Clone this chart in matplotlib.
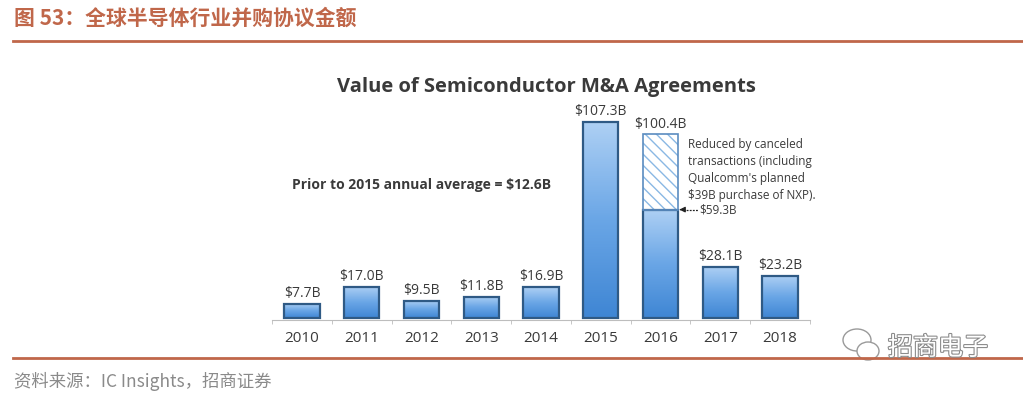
import numpy as np
import matplotlib
matplotlib.use("Agg")
import matplotlib.pyplot as plt
import matplotlib.patheffects as pe
from matplotlib.colors import LinearSegmentedColormap
from matplotlib.patches import Rectangle, Ellipse

plt.rcParams['font.family'] = ['Noto Sans CJK SC', 'DejaVu Sans']

years = ["2010", "2011", "2012", "2013", "2014", "2015", "2016", "2017", "2018"]
values = [7.7, 17.0, 9.5, 11.8, 16.9, 107.3, 59.3, 28.1, 23.2]
labels = ["$7.7B", "$17.0B", "$9.5B", "$11.8B", "$16.9B", "$107.3B", "$100.4B", "$28.1B", "$23.2B"]
announced_2016 = 100.4
completed_2016 = 59.3

HEAD = "#C0674A"
TEXT = "#3a3a3a"
EDGE = "#2f5a85"
HATCH = "#8ab8e4"
plt.rcParams['hatch.color'] = HATCH
grad = LinearSegmentedColormap.from_list("bar", ["#3f86d4", "#6aa6e6", "#aed0f4"])

fig = plt.figure(figsize=(10.23, 3.94), dpi=100, facecolor="white")

# header / footer
fig.text(14 / 1023, 1 - 18 / 394, "图 53：全球半导体行业并购协议金额", color=HEAD,
         fontsize=15, fontweight="bold", va="center", ha="left")
fig.add_artist(plt.Line2D([13 / 1023, 1.0], [1 - 41 / 394] * 2, color=HEAD, lw=2))
fig.add_artist(plt.Line2D([13 / 1023, 1.0], [1 - 358 / 394] * 2, color=HEAD, lw=2))
fig.text(14 / 1023, 1 - 381 / 394, "资料来源：IC Insights，招商证券", color="#8a8a8a",
         fontsize=12.5, va="center", ha="left")

# watermark
for cx, cy, w, h in [(857, 340, 28, 22), (868, 351, 22, 18)]:
    fig.add_artist(Ellipse((cx / 1023, 1 - cy / 394), w / 1023, h / 394,
                           facecolor="white", edgecolor="#9a9a9a", lw=1,
                           transform=fig.transFigure))
fig.text(888 / 1023, 1 - 348 / 394, "招商电子", color="white", fontsize=18,
         va="center", ha="left",
         path_effects=[pe.withStroke(linewidth=1.6, foreground="#8c8c8c")])

# chart title
fig.text(546 / 1023, 1 - 87 / 394, "Value of Semiconductor M&A Agreements",
         family="Open Sans", fontweight="bold", fontsize=14.5, color=TEXT,
         ha="center", va="center")

ax = fig.add_axes([272 / 1023, 74 / 394, 538 / 1023, 260 / 394])
ax.set_xlim(-0.5, len(years) - 0.5)
ax.set_ylim(-1, 141)
x = np.arange(len(years))
w = 0.59

for i, v in enumerate(values):
    r = Rectangle((x[i] - w / 2, 0), w, v, facecolor="none", edgecolor=EDGE, lw=1.6, zorder=3)
    ax.add_patch(r)
    im = ax.imshow(np.linspace(0, 1, 100).reshape(-1, 1), cmap=grad, origin="lower",
                   extent=(x[i] - w / 2, x[i] + w / 2, 0, v), aspect="auto", zorder=2)
    im.set_clip_path(r)

# 2016 cancelled part
i16 = years.index("2016")
ax.add_patch(Rectangle((x[i16] - w / 2, completed_2016), w, announced_2016 - completed_2016,
                       facecolor="white", edgecolor=HATCH, hatch="\\\\\\", lw=0, zorder=2))
ax.add_patch(Rectangle((x[i16] - w / 2, completed_2016), w, announced_2016 - completed_2016,
                       facecolor="none", edgecolor="#5b8cc0", lw=1.2, zorder=3))

tops = list(values)
tops[i16] = announced_2016
for i, lab in enumerate(labels):
    ax.text(x[i], tops[i] + 1.5, lab, ha="center", va="bottom", fontsize=10,
            color=TEXT, family="Open Sans")

# arrow to the completed value
x0 = x[i16] + w / 2
ax.plot([x0 + 0.08, x0 + 0.33], [completed_2016] * 2, color="#222", lw=0.9,
        ls=(0, (1.5, 1)), zorder=4)
ax.annotate("", xy=(x0 + 0.02, completed_2016), xytext=(x0 + 0.1, completed_2016),
            arrowprops=dict(arrowstyle="-|>", color="#222", lw=0.9, mutation_scale=8))
ax.text(x0 + 0.36, completed_2016, "$59.3B", va="center", ha="left",
        fontsize=8.5, color=TEXT, family="Open Sans")
ax.text(x0 + 0.16, 98.5, "Reduced by canceled\ntransactions (including\n"
        "Qualcomm's planned\n$39B purchase of NXP).", va="top", ha="left",
        fontsize=8.5, color=TEXT, family="Open Sans", linespacing=1.4)

ax.text(2.0, 72.5, "Prior to 2015 annual average = $12.6B", ha="center", va="center",
        fontsize=10, fontweight="bold", color=TEXT, family="Open Sans")

for s in ["top", "right", "left"]:
    ax.spines[s].set_visible(False)
ax.spines["bottom"].set_color("#bdbdbd")
ax.set_yticks([])
ax.set_xticks(x)
ax.set_xticklabels(years, fontsize=11, color=TEXT, family="Open Sans")
ax.tick_params(axis="x", which="major", length=0, pad=8)
ax.set_xticks(np.arange(-0.5, len(years)), minor=True)
ax.tick_params(axis="x", which="minor", length=3, color="#bdbdbd")
ax.patch.set_alpha(0)

fig.savefig("out.png", dpi=100, facecolor="white")
